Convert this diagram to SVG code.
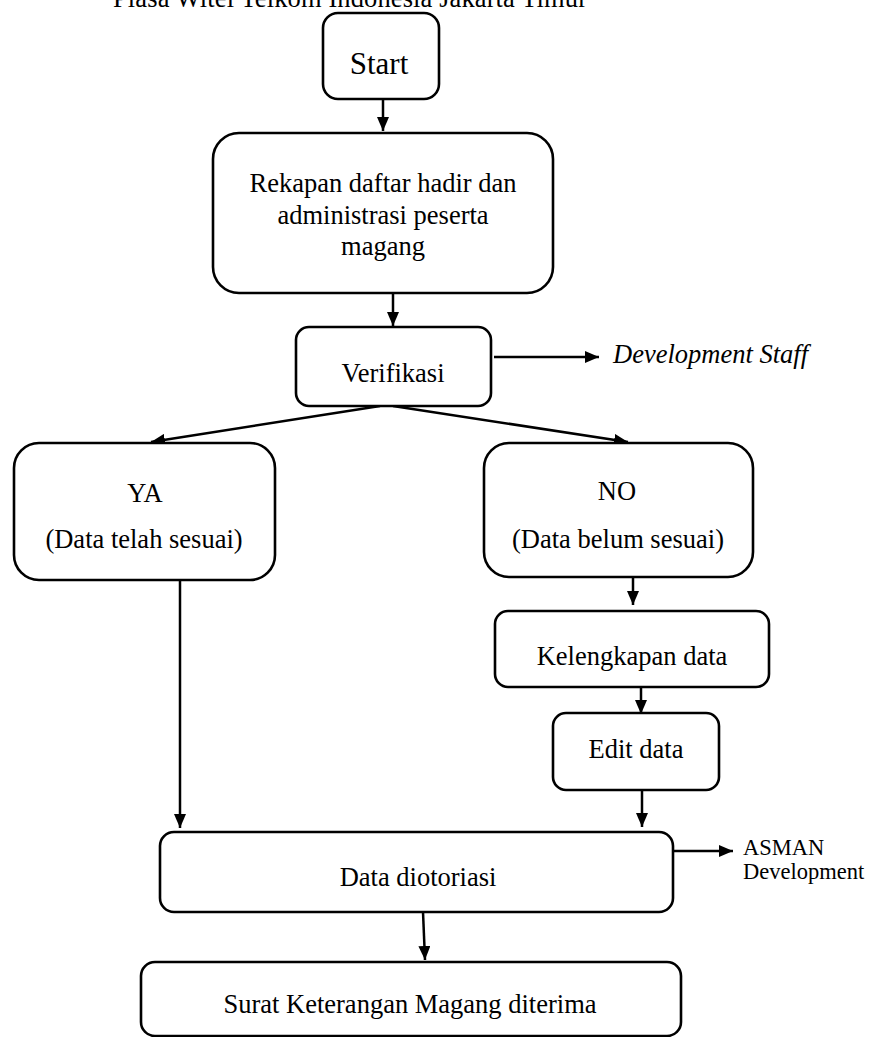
<svg xmlns="http://www.w3.org/2000/svg" width="875" height="1037" viewBox="0 0 875 1037">
<style>
.box{fill:#fff;stroke:#000;stroke-width:2.6}
.t{font-family:"Liberation Serif","Times New Roman",serif;font-size:26.5px;fill:#000;text-anchor:middle}
.l{font-family:"Liberation Serif","Times New Roman",serif;fill:#000}
.c{fill:none;stroke:#000;stroke-width:2.5}
</style>
<defs>
<marker id="ah" viewBox="0 0 14 12" refX="14" refY="6" markerWidth="14" markerHeight="12" orient="auto" markerUnits="userSpaceOnUse">
<path d="M0,0 L14,6 L0,12 Z" fill="#000"/>
</marker>
</defs>
<rect width="875" height="1037" fill="#fff"/>
<text id="title" class="l" x="113" y="7" style="font-size:26.5px" textLength="474">Plasa Witel Telkom Indonesia Jakarta Timur</text>
<g id="connectors">
<line class="c" x1="383" y1="99" x2="383" y2="131" marker-end="url(#ah)"/>
<line class="c" x1="393" y1="293" x2="393" y2="326" marker-end="url(#ah)"/>
<line class="c" x1="494" y1="357" x2="599" y2="357" marker-end="url(#ah)"/>
<line class="c" x1="380" y1="406" x2="151" y2="442" marker-end="url(#ah)"/>
<line class="c" x1="393" y1="406" x2="628" y2="442" marker-end="url(#ah)"/>
<line class="c" x1="180" y1="580" x2="180" y2="828" marker-end="url(#ah)"/>
<line class="c" x1="633" y1="572" x2="633" y2="605" marker-end="url(#ah)"/>
<line class="c" x1="641" y1="687" x2="641" y2="714" marker-end="url(#ah)"/>
<line class="c" x1="642" y1="790" x2="642" y2="827" marker-end="url(#ah)"/>
<line class="c" x1="673" y1="851" x2="733" y2="851" marker-end="url(#ah)"/>
<line class="c" x1="423" y1="912" x2="425" y2="960" marker-end="url(#ah)"/>
</g>
<g id="start">
<rect class="box" x="323" y="13" width="116" height="86" rx="15"/>
<text class="t" x="379" y="74" style="font-size:31px">Start</text>
</g>
<g id="rekapan">
<rect class="box" x="213" y="133" width="340" height="160" rx="26"/>
<text class="t" x="383" y="192">Rekapan daftar hadir dan</text>
<text class="t" x="383" y="223.5">administrasi peserta</text>
<text class="t" x="383" y="255">magang</text>
</g>
<g id="verifikasi">
<rect class="box" x="296" y="327" width="195" height="79" rx="13"/>
<text class="t" x="393" y="382">Verifikasi</text>
</g>
<g id="devstaff">
<text class="l" x="613" y="363" style="font-size:26.5px;font-style:italic">Development Staff</text>
</g>
<g id="ya">
<rect class="box" x="14" y="443" width="261" height="137" rx="25"/>
<text class="t" x="145" y="502">YA</text>
<text class="t" x="144" y="548">(Data telah sesuai)</text>
</g>
<g id="no">
<rect class="box" x="484" y="443" width="269" height="134" rx="25"/>
<text class="t" x="617" y="500">NO</text>
<text class="t" x="618" y="548">(Data belum sesuai)</text>
</g>
<g id="kelengkapan">
<rect class="box" x="495" y="611" width="274" height="76" rx="13"/>
<text class="t" x="632" y="665">Kelengkapan data</text>
</g>
<g id="edit">
<rect class="box" x="553" y="713" width="166" height="77" rx="13"/>
<text class="t" x="636" y="758">Edit data</text>
</g>
<g id="diotoriasi">
<rect class="box" x="160" y="832" width="513" height="80" rx="14"/>
<text class="t" x="418" y="886">Data diotoriasi</text>
</g>
<g id="asman">
<text class="l" x="743" y="855" style="font-size:22.5px">ASMAN</text>
<text class="l" x="743" y="879" style="font-size:22.5px">Development</text>
</g>
<g id="surat">
<rect class="box" x="141" y="962" width="540" height="74" rx="14"/>
<text class="t" x="410" y="1013">Surat Keterangan Magang diterima</text>
</g>
</svg>
